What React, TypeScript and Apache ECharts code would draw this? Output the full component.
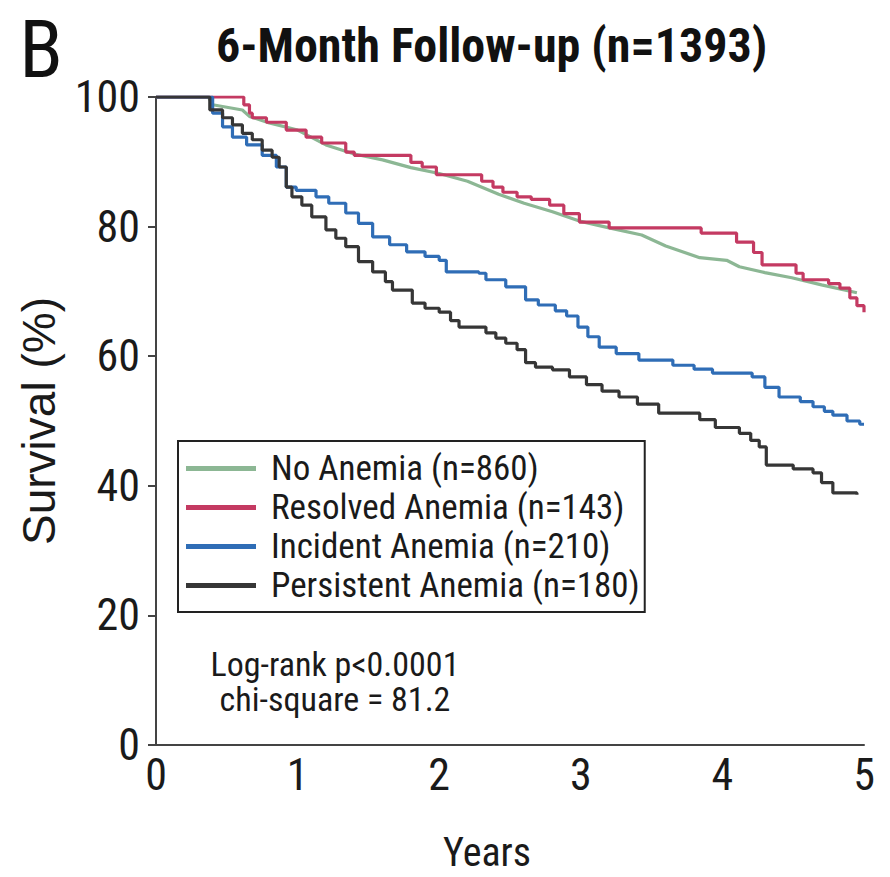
import React, { useEffect, useRef } from "react";
import * as echarts from "echarts";

const seriesNames = [
  "No Anemia (n=860)",
  "Resolved Anemia (n=143)",
  "Incident Anemia (n=210)",
  "Persistent Anemia (n=180)",
];
const seriesColors = ["#8cb794", "#c43a62", "#2f6db6", "#363636"];

const xTicks = [0, 1, 2, 3, 4, 5];
const yTicks = [0, 20, 40, 60, 80, 100];

// [years, survival %]
const noAnemia: [number, number][] = [
  [0, 100], [0.37, 100], [0.4, 98.8], [0.61, 98.0], [0.66, 97.0], [0.8, 96.0], [1.0, 94.9],
  [1.2, 92.6], [1.4, 91.2], [1.6, 90.3], [1.8, 89.1], [2.0, 88.2], [2.2, 87.0], [2.42, 85.0],
  [2.6, 83.6], [2.8, 82.3], [3.0, 80.8], [3.2, 79.8], [3.43, 78.7], [3.6, 77.0], [3.84, 75.2],
  [4.03, 74.8], [4.12, 73.8], [4.3, 72.9], [4.49, 72.1], [4.7, 71.0], [4.95, 69.8],
];
const resolvedAnemia: [number, number][] = [
  [0, 100], [0.6, 100], [0.62, 98.8], [0.66, 97.5], [0.68, 96.8], [0.78, 96.1], [0.92, 94.9],
  [1.06, 93.8], [1.17, 92.9], [1.34, 91.5], [1.4, 91.0], [1.8, 89.9], [1.88, 89.2], [1.98, 88.0],
  [2.3, 87.0], [2.38, 86.1], [2.45, 85.3], [2.55, 84.6], [2.65, 84.2], [2.78, 83.3], [2.88, 82.0],
  [2.99, 80.7], [3.2, 79.8], [3.85, 79.0], [4.1, 77.6], [4.22, 76.0], [4.28, 74.1], [4.52, 72.8],
  [4.57, 71.8], [4.75, 71.2], [4.83, 70.5], [4.9, 69.0], [4.95, 67.8], [5.0, 66.8],
];
const incidentAnemia: [number, number][] = [
  [0, 100], [0.36, 100], [0.4, 97.5], [0.47, 95.4], [0.54, 93.8], [0.64, 92.6], [0.75, 91.0],
  [0.85, 89.2], [0.92, 86.1], [0.99, 85.6], [1.13, 84.6], [1.22, 83.6], [1.34, 82.1], [1.43, 80.5],
  [1.53, 78.4], [1.65, 77.2], [1.77, 76.1], [1.9, 75.4], [2.0, 74.8], [2.05, 73.0], [2.28, 72.8],
  [2.33, 71.8], [2.47, 70.7], [2.61, 68.7], [2.7, 67.9], [2.82, 67.0], [2.9, 66.2], [2.98, 64.5],
  [3.05, 63.0], [3.13, 61.4], [3.25, 60.4], [3.41, 59.4], [3.65, 58.6], [3.8, 58.0], [3.93, 57.4],
  [4.21, 56.8], [4.3, 55.2], [4.4, 53.7], [4.55, 53.0], [4.64, 52.2], [4.72, 51.5], [4.78, 50.9],
  [4.88, 50.0], [4.97, 49.5], [5.0, 49.5],
];
const persistentAnemia: [number, number][] = [
  [0, 100], [0.36, 100], [0.38, 98.0], [0.47, 96.8], [0.54, 95.7], [0.61, 94.4], [0.68, 93.4],
  [0.75, 91.8], [0.82, 90.7], [0.87, 89.2], [0.92, 86.1], [0.96, 84.6], [1.03, 83.3], [1.1, 81.5],
  [1.2, 79.5], [1.27, 78.2], [1.34, 76.9], [1.43, 74.6], [1.53, 73.0], [1.62, 71.5], [1.67, 70.2],
  [1.81, 68.2], [1.9, 67.4], [2.0, 66.8], [2.08, 65.5], [2.14, 64.5], [2.33, 63.6], [2.4, 62.8],
  [2.47, 62.0], [2.55, 61.0], [2.61, 59.0], [2.68, 58.3], [2.8, 57.9], [2.92, 56.8], [3.04, 55.6],
  [3.15, 54.6], [3.27, 53.7], [3.4, 52.6], [3.55, 51.2], [3.84, 50.2], [3.95, 49.0], [4.12, 48.1],
  [4.2, 47.0], [4.26, 46.0], [4.31, 43.2], [4.5, 42.6], [4.64, 42.0], [4.7, 40.5], [4.78, 38.9],
  [4.95, 38.6],
];

const seriesData = [noAnemia, resolvedAnemia, incidentAnemia, persistentAnemia];

const statText = "Log-rank p<0.0001\nchi-square = 81.2";
const titleText = "6-Month Follow-up (n=1393)";
const panelLetter = "B";

const FONT = "Roboto Condensed";

export default function App() {
  const ref = useRef<HTMLDivElement>(null);
  useEffect(() => {
    const chart = echarts.init(ref.current!, null, { renderer: "svg" });
    chart.setOption({
      animation: false,
      backgroundColor: "#ffffff",
      title: {
        text: titleText,
        left: 211,
        top: 16,
        textStyle: { fontFamily: FONT, fontWeight: "bold", fontSize: 48, color: "#111" },
      },
      grid: {
        left: 156,
        top: 97,
        width: 708,
        height: 648,
        containLabel: false,
        outerBoundsMode: "none",
      },
      legend: {
        orient: "vertical",
        left: 178,
        top: 441,
        padding: [8, 5, 7, 8],
        backgroundColor: "#ffffff",
        borderColor: "#222",
        borderWidth: 2,
        borderRadius: 0,
        itemGap: 0,
        itemWidth: 70,
        itemHeight: 5,
        icon: "rect",
        data: seriesNames,
        textStyle: {
          fontFamily: FONT,
          fontSize: 35,
          color: "#1a1a1a",
          lineHeight: 39,
          padding: [0, 0, 0, 10],
        },
      },
      xAxis: {
        type: "value",
        min: 0,
        max: 5,
        interval: 1,
        name: "Years",
        nameLocation: "middle",
        nameGap: 87,
        nameTextStyle: { fontFamily: FONT, fontSize: 40, color: "#1a1a1a", padding: [0, 46, 0, 0] },
        axisLine: { show: true, lineStyle: { color: "#444", width: 2 } },
        axisTick: { show: false },
        splitLine: { show: false },
        axisLabel: {
          fontFamily: FONT,
          fontSize: 44,
          color: "#1a1a1a",
          margin: 8,
          formatter: (v: number) => (xTicks.includes(v) ? String(v) : ""),
        },
      },
      yAxis: {
        type: "value",
        min: 0,
        max: 100,
        interval: 20,
        name: "Survival (%)",
        nameLocation: "middle",
        nameRotate: 90,
        nameGap: 94,
        nameTextStyle: { fontFamily: "Liberation Sans", fontSize: 46, color: "#1a1a1a" },
        axisLine: { show: true, lineStyle: { color: "#444", width: 2 } },
        axisTick: { show: true, length: 8, lineStyle: { color: "#444", width: 2 } },
        splitLine: { show: false },
        axisLabel: {
          fontFamily: FONT,
          fontSize: 44,
          color: "#1a1a1a",
          margin: 16,
          formatter: (v: number) => (yTicks.includes(v) ? String(v) : ""),
        },
      },
      series: seriesNames.map((name, i) => ({
        name,
        type: "line",
        data: seriesData[i],
        step: i === 0 ? false : "end",
        showSymbol: false,
        symbol: "none",
        color: seriesColors[i],
        lineStyle: { color: seriesColors[i], width: 3.2 },
        z: i === 0 ? 2 : 3,
      })),
      graphic: [
        {
          type: "text",
          x: 41,
          y: 50,
          style: {
            text: panelLetter,
            font: `80px "${FONT}"`,
            fill: "#111",
            textAlign: "center",
            textVerticalAlign: "middle",
          },
        },
        {
          type: "text",
          x: 335,
          y: 681,
          style: {
            text: statText,
            font: `34px "${FONT}"`,
            lineHeight: 35,
            fill: "#1a1a1a",
            textAlign: "center",
            textVerticalAlign: "middle",
          },
        },
      ],
    });
    return () => chart.dispose();
  }, []);
  return (
    <div
      ref={ref}
      style={{ position: "absolute", left: 0, top: 0, width: 890, height: 877 }}
    />
  );
}
